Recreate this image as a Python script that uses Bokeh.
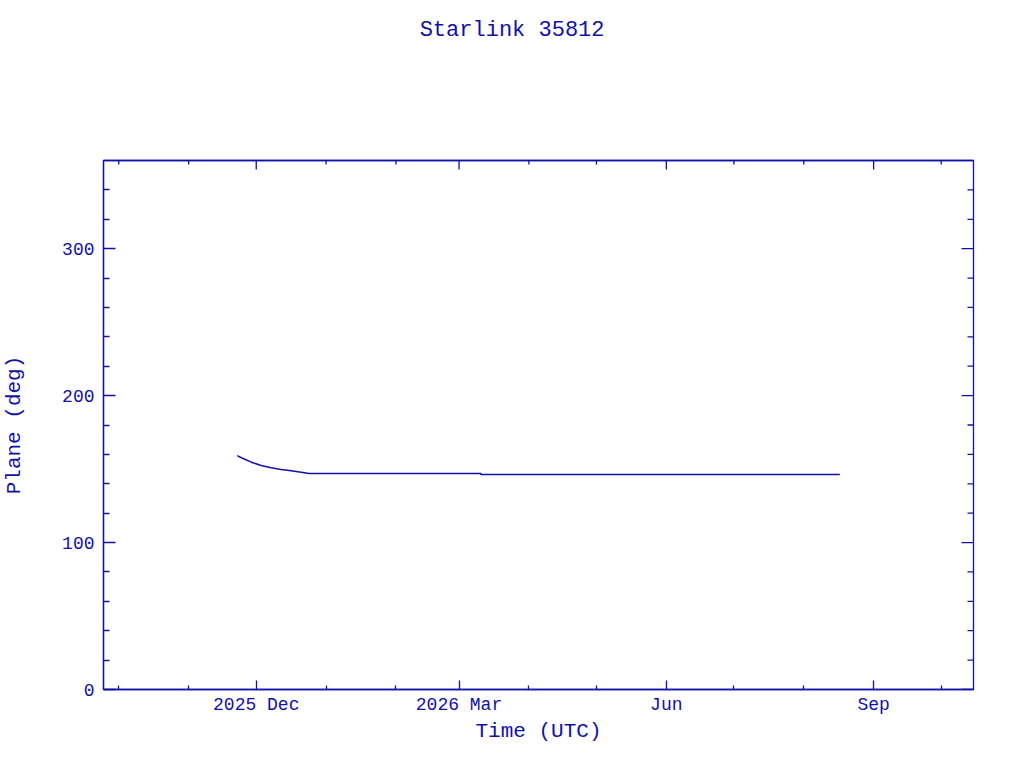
import math
import pandas as pd
from bokeh.plotting import figure
from bokeh.models import Range1d, LinearAxis, FixedTicker, ColumnDataSource
from bokeh.embed import file_html
from bokeh.resources import INLINE

# ---- chart data ----
title_text = "Starlink 35812"
x_label = "Time (UTC)"
y_label = "Plane (deg)"

dates = ["2025-11-22 14:00", "2025-11-24 10:00", "2025-11-28 19:00",
         "2025-12-03 05:00", "2025-12-07 14:00", "2025-12-12 02:00",
         "2025-12-16 12:00", "2025-12-20 22:00", "2025-12-24 12:00",
         "2026-03-10 16:00", "2026-03-10 18:00", "2026-08-17 00:00"]
plane = [159.2, 157.7, 154.7, 152.4, 150.9, 149.7, 148.8, 147.9, 147.0,
         147.0, 146.3, 146.3]

x_major_dates = ["2025-12-01", "2026-03-01", "2026-06-01", "2026-09-01"]
x_major_labels = ["2025 Dec", "2026 Mar", "Jun", "Sep"]
x_minor_dates = ["2025-10-01", "2025-11-01", "2026-01-01", "2026-02-01",
                 "2026-04-01", "2026-05-01", "2026-07-01", "2026-08-01",
                 "2026-10-01"]
y_major = [0, 100, 200, 300]
y_minor = [20, 40, 60, 80, 120, 140, 160, 180, 220, 240, 260, 280, 320, 340]

x_start, x_end = "2025-09-24 05:00", "2026-10-15 08:00"
y_start, y_end = 0, 360

BLUE = "#1010aa"
FONT = "Liberation Mono"


def ms(s):
    return float(pd.Timestamp(s).value // 10**6)


xs = [ms(d) for d in dates]
x_major = [ms(d) for d in x_major_dates]
x_minor = [ms(d) for d in x_minor_dates]
x0, x1 = ms(x_start), ms(x_end)

src = ColumnDataSource(dict(x=xs, y=plane))

p = figure(width=1000, height=745, output_backend="svg", toolbar_location=None,
           x_range=Range1d(x0, x1), y_range=Range1d(y_start, y_end),
           min_border_left=102, min_border_right=27,
           min_border_top=160, min_border_bottom=56)
p.grid.visible = False
p.outline_line_color = BLUE
p.outline_line_width = 1.3
p.background_fill_color = "white"
p.border_fill_color = "white"

p.line("x", "y", source=src, line_color=BLUE, line_width=1.5)

xt = FixedTicker(ticks=x_major, minor_ticks=x_minor)
yt = FixedTicker(ticks=y_major, minor_ticks=y_minor)


def style(ax, ticker, maj_in, min_in):
    ax.ticker = ticker
    ax.axis_line_color = BLUE
    ax.axis_line_width = 1.3
    ax.major_tick_line_color = BLUE
    ax.minor_tick_line_color = BLUE
    ax.major_tick_line_width = 1.3
    ax.minor_tick_line_width = 1.3
    ax.major_tick_in = maj_in
    ax.major_tick_out = 0
    ax.minor_tick_in = min_in
    ax.minor_tick_out = 0
    ax.major_label_text_color = BLUE
    ax.major_label_text_font = FONT
    ax.major_label_text_font_size = "18px"
    ax.axis_label_text_color = BLUE
    ax.axis_label_text_font = FONT
    ax.axis_label_text_font_style = "normal"
    ax.axis_label_text_font_size = "21px"


bx = p.xaxis[0]
style(bx, xt, 9, 4)
bx.major_label_overrides = {v: l for v, l in zip(x_major, x_major_labels)}
bx.major_label_standoff = 5
bx.axis_label = x_label
bx.axis_label_standoff = 2

ly = p.yaxis[0]
style(ly, yt, 12, 6)
ly.major_label_standoff = 9
ly.axis_label = y_label
ly.axis_label_standoff = 33

# title as label of an unticked top axis; trailing no-break spaces move the
# visible text left so that it is centred on the page rather than the frame
ty = LinearAxis(ticker=FixedTicker(ticks=[], minor_ticks=[]))
ty.axis_line_color = BLUE
ty.axis_line_width = 1.3
ty.axis_label = title_text + "\u00a0" * 4
ty.axis_label_text_color = BLUE
ty.axis_label_text_font = FONT
ty.axis_label_text_font_style = "normal"
ty.axis_label_text_font_size = "22px"
ty.major_label_standoff = 0
ty.axis_label_standoff = 118
p.add_layout(ty, "above")

# mirrored inward ticks on top and right edges
p.ray(x=x_major, y=[y_end] * len(x_major), length=9, length_units="screen",
      angle=-math.pi / 2, line_color=BLUE, line_width=1.3)
p.ray(x=x_minor, y=[y_end] * len(x_minor), length=4, length_units="screen",
      angle=-math.pi / 2, line_color=BLUE, line_width=1.3)
p.ray(x=[x1] * len(y_major), y=y_major, length=12, length_units="screen",
      angle=math.pi, line_color=BLUE, line_width=1.3)
p.ray(x=[x1] * len(y_minor), y=y_minor, length=6, length_units="screen",
      angle=math.pi, line_color=BLUE, line_width=1.3)

open("out.html", "w").write(file_html(p, INLINE))
